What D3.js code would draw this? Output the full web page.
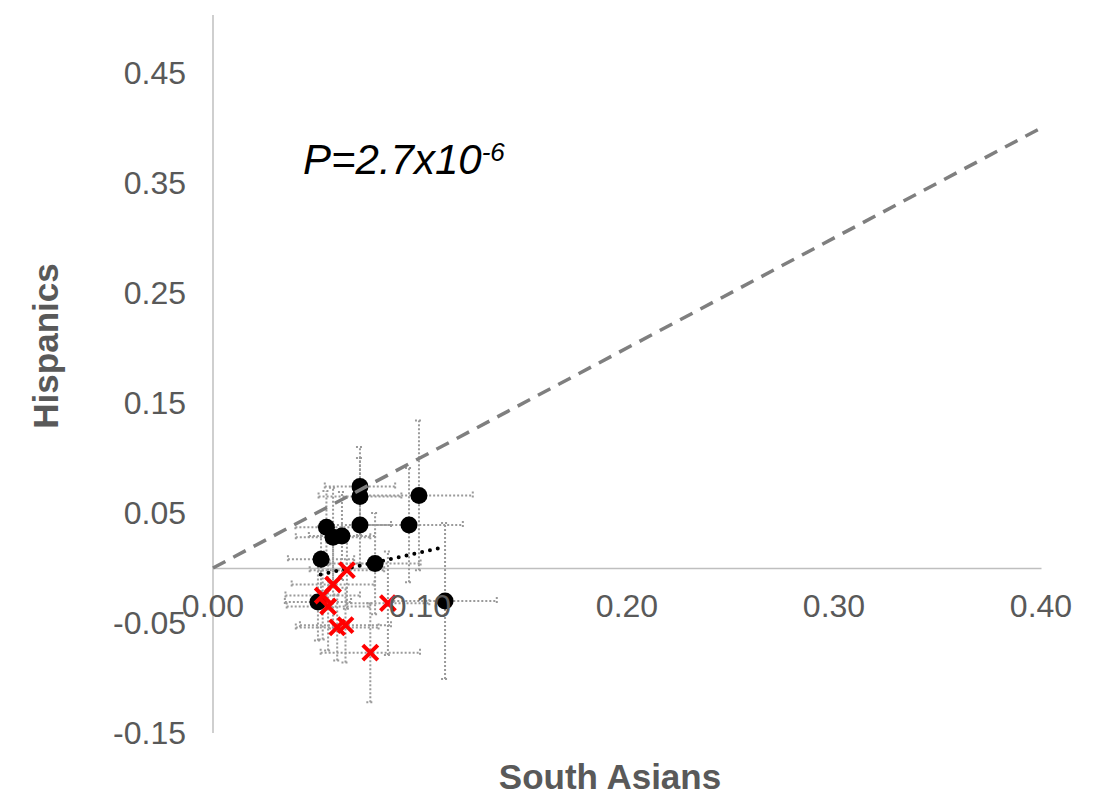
<!DOCTYPE html>
<html lang="en">
<head>
    <meta charset="UTF-8">
    <title>South Asians vs Hispanics</title>
    <script src="https://d3js.org/d3.v7.min.js"></script>
    <style>
        body {
            margin: 0;
            background: #fff;
            font-family: "Liberation Sans", Arial, sans-serif;
        }
        svg {
            display: block;
        }
        .axis text {
            font-size: 32px;
            fill: #595959;
            font-family: "Liberation Sans", Arial, sans-serif;
        }
        .axis line,
        .axis path {
            stroke: #bfbfbf;
            stroke-width: 1.5px;
            fill: none;
        }
        .label {
            font-size: 35px;
            font-weight: bold;
            fill: #595959;
        }
        .err {
            stroke: #9a9a9a;
            stroke-width: 2px;
            stroke-dasharray: 2, 2;
            fill: none;
        }
    </style>
</head>
<body>
    <svg id="chart" width="1096" height="796"></svg>
    <script>
        // black dots (South Asian / Hispanic effect pairs)
        var blackX    = [0.071, 0.071, 0.0995, 0.071, 0.0947, 0.0548, 0.0580, 0.0623, 0.0522, 0.0783, 0.0507, 0.1121];
        var blackY    = [0.074, 0.065, 0.066, 0.039, 0.039, 0.037, 0.028, 0.029, 0.008, 0.004, -0.031, -0.030];
        var blackXErr = [0.017, 0.020, 0.026, 0.015, 0.026, 0.015, 0.018, 0.016, 0.016, 0.022, 0.016, 0.025];
        var blackYErr = [0.036, 0.035, 0.068, 0.035, 0.052, 0.033, 0.045, 0.040, 0.030, 0.046, 0.035, 0.071];

        // red crosses
        var redX    = [0.0647, 0.058, 0.053, 0.0556, 0.060, 0.064, 0.076, 0.0845];
        var redY    = [-0.002, -0.015, -0.025, -0.035, -0.054, -0.052, -0.077, -0.032];
        var redXErr = [0.018, 0.020, 0.018, 0.020, 0.020, 0.022, 0.024, 0.020];
        var redYErr = [0.035, 0.040, 0.040, 0.040, 0.030, 0.034, 0.045, 0.047];

        // dotted trend line and dashed y = x line
        var trendX = [0.052, 0.109];
        var trendY = [-0.006, 0.018];
        var diagX = [0, 0.40];
        var diagY = [0, 0.40];

        var xTicks = [0.00, 0.10, 0.20, 0.30, 0.40];
        var yTicks = [0.45, 0.35, 0.25, 0.15, 0.05, -0.05, -0.15];

        // plain hyphen for negatives, like the original
        var fmt = function(v) { return v.toFixed(2); };

        var svg = d3.select("#chart");

        var x = d3.scaleLinear().domain([0, 0.40]).range([213, 1041]);
        var y = d3.scaleLinear().domain([-0.15, 0.5]).range([733, 18]);

        var blackData = blackX.map(function(d, i) {
            return {x: d, y: blackY[i], xe: blackXErr[i], ye: blackYErr[i]};
        });
        var redData = redX.map(function(d, i) {
            return {x: d, y: redY[i], xe: redXErr[i], ye: redYErr[i]};
        });
        var allData = blackData.concat(redData);

        // axis lines first, tick text goes on top of the marks later
        var yAxisG = svg.append("g")
            .attr("class", "y axis")
            .attr("transform", "translate(" + x(0) + ",0)")
            .call(d3.axisLeft(y).tickValues(yTicks).tickSize(0).tickFormat(fmt));
        yAxisG.select(".domain").attr("d", "M0,15V" + y(-0.15));

        svg.append("g")
            .attr("class", "x axis")
            .attr("transform", "translate(0," + y(0) + ")")
            .call(d3.axisBottom(x).tickValues(xTicks).tickSize(0).tickFormat(fmt));

        svg.selectAll(".axis .tick text").remove();

        // error bars
        var cap = 4;
        var eb = svg.append("g");
        allData.forEach(function(d) {
            var px = x(d.x), py = y(d.y);
            var x0 = x(d.x - d.xe), x1 = x(d.x + d.xe);
            var y0 = y(d.y - d.ye), y1 = y(d.y + d.ye);
            eb.append("path").attr("class", "err")
                .attr("d", "M" + x0 + "," + py + "H" + x1 +
                    "M" + x0 + "," + (py - cap) + "V" + (py + cap) +
                    "M" + x1 + "," + (py - cap) + "V" + (py + cap));
            eb.append("path").attr("class", "err")
                .attr("d", "M" + px + "," + y0 + "V" + y1 +
                    "M" + (px - cap) + "," + y0 + "H" + (px + cap) +
                    "M" + (px - cap) + "," + y1 + "H" + (px + cap));
        });

        // trend line
        svg.append("line")
            .attr("x1", x(trendX[0])).attr("y1", y(trendY[0]))
            .attr("x2", x(trendX[1])).attr("y2", y(trendY[1]))
            .attr("stroke", "#000")
            .attr("stroke-width", 4)
            .attr("stroke-linecap", "round")
            .attr("stroke-dasharray", "0,8");

        // black dots
        svg.selectAll(".dot")
            .data(blackData)
          .enter().append("circle")
            .attr("class", "dot")
            .attr("r", 8.5)
            .attr("cx", function(d) { return x(d.x); })
            .attr("cy", function(d) { return y(d.y); })
            .attr("fill", "#000");

        // red crosses
        var s = 7.5;
        svg.selectAll(".cross")
            .data(redData)
          .enter().append("path")
            .attr("class", "cross")
            .attr("d", function(d) {
                var px = x(d.x), py = y(d.y);
                return "M" + (px - s) + "," + (py - s) + "L" + (px + s) + "," + (py + s) +
                       "M" + (px - s) + "," + (py + s) + "L" + (px + s) + "," + (py - s);
            })
            .attr("stroke", "#ff0000")
            .attr("stroke-width", 4)
            .attr("fill", "none");

        // dashed y = x line
        svg.append("line")
            .attr("x1", x(diagX[0])).attr("y1", y(diagY[0]))
            .attr("x2", x(diagX[1])).attr("y2", y(diagY[1]))
            .attr("stroke", "#7f7f7f")
            .attr("stroke-width", 3.5)
            .attr("stroke-dasharray", "14,9");

        // tick labels on top
        var labelLayer = svg.append("g").attr("class", "axis");
        xTicks.forEach(function(t) {
            labelLayer.append("text")
                .attr("x", x(t)).attr("y", 617)
                .attr("text-anchor", "middle")
                .text(fmt(t));
        });
        yTicks.forEach(function(t) {
            labelLayer.append("text")
                .attr("x", 186).attr("y", y(t) + 11)
                .attr("text-anchor", "end")
                .text(fmt(t));
        });

        // axis titles
        svg.append("text")
            .attr("class", "label")
            .attr("transform", "translate(58,346) rotate(-90)")
            .attr("text-anchor", "middle")
            .text("Hispanics");

        svg.append("text")
            .attr("class", "label")
            .attr("x", 610).attr("y", 789)
            .attr("text-anchor", "middle")
            .text("South Asians");

        // P value annotation
        var p = svg.append("text")
            .attr("x", 303).attr("y", 174)
            .attr("font-size", 42)
            .attr("font-style", "italic")
            .attr("fill", "#000");
        p.append("tspan").text("P=2.7x10");
        p.append("tspan").attr("font-size", 26).attr("dy", -13).text("-6");
    </script>
</body>
</html>
